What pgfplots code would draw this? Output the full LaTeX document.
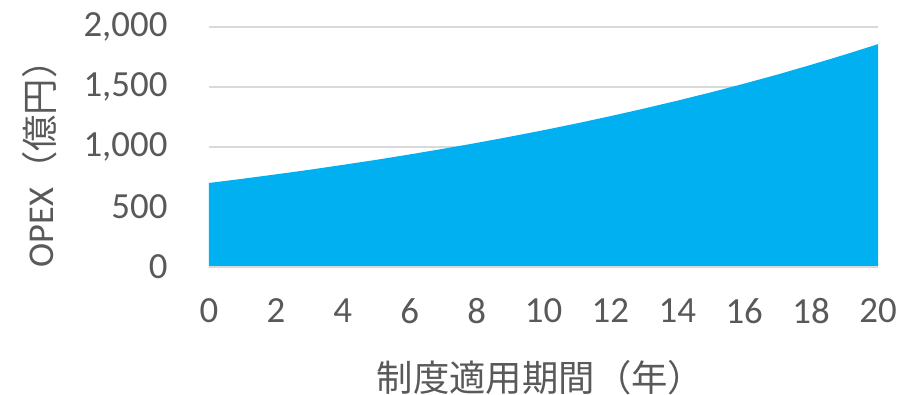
\documentclass[border=0pt]{standalone}
\usepackage{fontspec}
\setmainfont{Carlito}
\newfontfamily\jp{Noto Sans CJK JP}
\usepackage{pgfplots}
\pgfplotsset{compat=1.18}
\definecolor{areablue}{HTML}{00B0F0}
\definecolor{txtgray}{HTML}{595959}
\definecolor{gridgray}{HTML}{D9D9D9}
\begin{document}
\begin{tikzpicture}[x=1bp,y=1bp]
\useasboundingbox (-209bp,-128bp) rectangle (690bp,267bp);
\begin{axis}[
  at={(0,0)}, anchor=south west,
  scale only axis, width=669bp, height=240bp,
  xmin=0, xmax=20, ymin=0, ymax=2000,
  axis line style={draw=none},
  xtick={0,2,...,20}, ytick={0,500,...,2000},
  ymajorgrids, grid style={gridgray, line width=1.5bp},
  major tick length=0pt,
  /pgf/number format/assume math mode=true,
  /pgf/number format/1000 sep={,},
  tick label style={font=\fontsize{37}{40}\selectfont, text=txtgray},
  yticklabel style={anchor=east, xshift=-38bp},
  xticklabel style={anchor=center, yshift=-44bp},
  clip=false,
]
\addplot[fill=areablue, draw=none] coordinates {
(0,700) (1,735) (2,772) (3,810) (4,851) (5,893) (6,938) (7,985) (8,1034) (9,1086) (10,1140) (11,1197) (12,1257) (13,1320) (14,1386) (15,1455) (16,1528) (17,1604) (18,1685) (19,1769) (20,1857)
} \closedcycle;
\draw[gridgray, line width=1.5bp] (axis cs:0,0) -- (axis cs:20,0);
\node[text=txtgray, rotate=90, font=\fontsize{36.5}{40}\selectfont] at ([xshift=-169bp,yshift=-8bp]rel axis cs:0,0.5) {OPEX{\jp （億円）}};
\node[text=txtgray, font=\fontsize{36.5}{40}\selectfont\jp] at ([yshift=-111bp,xshift=-3bp]rel axis cs:0.5,0) {制度適用期間（年）};
\end{axis}
\end{tikzpicture}
\end{document}
